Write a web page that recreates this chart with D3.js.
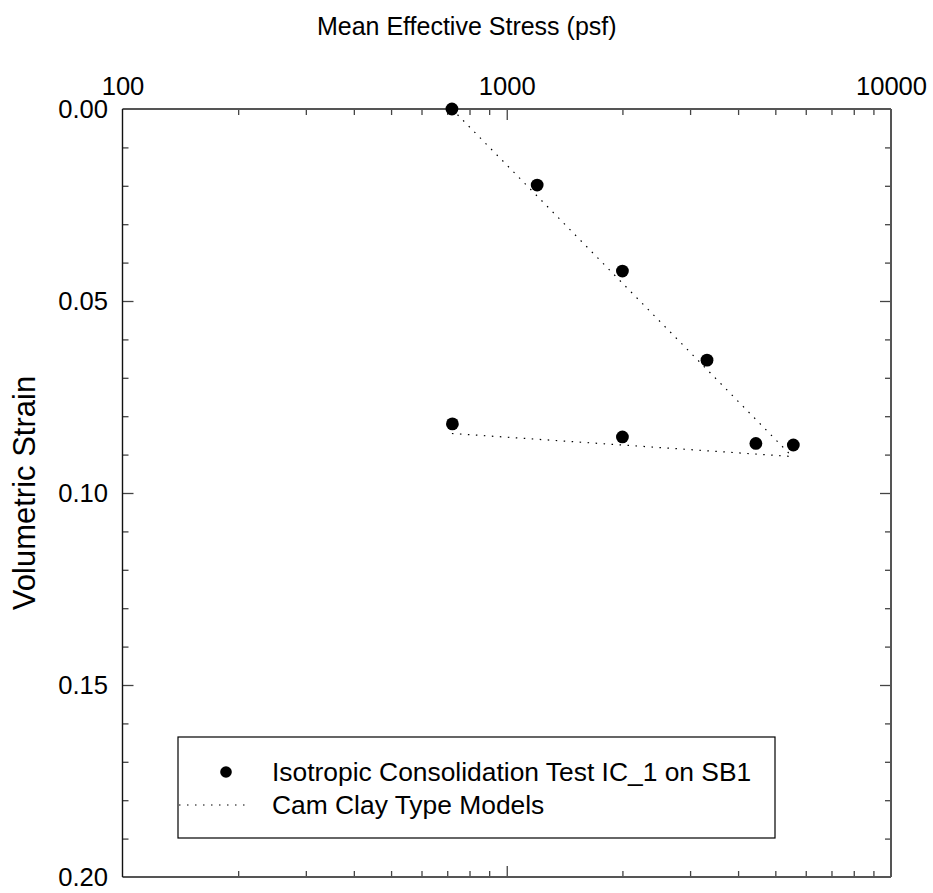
<!DOCTYPE html>
<html>
<head>
<meta charset="utf-8">
<script src="https://cdn.jsdelivr.net/npm/d3@7/dist/d3.min.js"></script>
<style>
  html, body { margin: 0; padding: 0; background: #fff; }
  svg { display: block; font-family: "Liberation Sans", Arial, Helvetica, sans-serif; }
</style>
</head>
<body>
<svg id="chart" width="933" height="893"></svg>
<script>
// Isotropic consolidation test, measured points (mean effective stress in psf, volumetric strain)
const testPressure = [720, 1200, 2000, 3320, 5570, 4450, 2000, 722];
const testStrain   = [0.000, 0.0198, 0.0422, 0.0654, 0.0875, 0.0871, 0.0854, 0.0820];

// Cam Clay type model: normal consolidation line and unloading line
const nclPressure = [720, 5530];
const nclStrain   = [0.000, 0.0905];
const urlPressure = [720, 5530];
const urlStrain   = [0.0845, 0.0905];

// Axis ticks
const xMajorTicks = [100, 1000, 10000];
const xMinorTicks = [200, 300, 400, 500, 600, 700, 800, 900,
                     2000, 3000, 4000, 5000, 6000, 7000, 8000, 9000];
const yMajorTicks = [0.00, 0.05, 0.10, 0.15, 0.20];
const yMinorTicks = [0.01, 0.02, 0.03, 0.04, 0.06, 0.07, 0.08, 0.09,
                     0.11, 0.12, 0.13, 0.14, 0.16, 0.17, 0.18, 0.19];

const legendLabels = ["Isotropic Consolidation Test IC_1 on SB1", "Cam Clay Type Models"];

const svg = d3.select("#chart");
const L = 122.5, R = 891, T = 109, B = 877;
const fontSize = 25;

const x = d3.scaleLog().domain([100, 10000]).range([L, R]);
const y = d3.scaleLinear().domain([0, 0.2]).range([T, B]);

const tickColor = "#444";

function styleAxis(g) {
  g.select(".domain").remove();
  g.selectAll(".tick line").attr("stroke", tickColor).attr("stroke-width", 1.3);
  g.selectAll(".tick text").attr("fill", "#000").attr("font-size", fontSize)
    .attr("font-family", "'Liberation Sans', Arial, sans-serif");
}

// Inward ticks on all four sides
const xMajorInner = xMajorTicks.filter(v => v > 100 && v < 10000);
svg.append("g").attr("transform", `translate(0,${B})`)
  .call(d3.axisTop(x).tickValues(xMinorTicks).tickSize(6).tickFormat("")).call(styleAxis);
svg.append("g").attr("transform", `translate(0,${B})`)
  .call(d3.axisTop(x).tickValues(xMajorInner).tickSize(11).tickFormat("")).call(styleAxis);
svg.append("g").attr("transform", `translate(0,${T})`)
  .call(d3.axisBottom(x).tickValues(xMinorTicks).tickSize(6).tickFormat("")).call(styleAxis);
svg.append("g").attr("transform", `translate(0,${T})`)
  .call(d3.axisBottom(x).tickValues(xMajorInner).tickSize(11).tickFormat("")).call(styleAxis);

const yMajorInner = yMajorTicks.filter(v => v > 0 && v < 0.2);
svg.append("g").attr("transform", `translate(${L},0)`)
  .call(d3.axisRight(y).tickValues(yMinorTicks).tickSize(6).tickFormat("")).call(styleAxis);
svg.append("g").attr("transform", `translate(${L},0)`)
  .call(d3.axisRight(y).tickValues(yMajorInner).tickSize(11).tickFormat("")).call(styleAxis);
svg.append("g").attr("transform", `translate(${R},0)`)
  .call(d3.axisLeft(y).tickValues(yMinorTicks).tickSize(6).tickFormat("")).call(styleAxis);
svg.append("g").attr("transform", `translate(${R},0)`)
  .call(d3.axisLeft(y).tickValues(yMajorInner).tickSize(11).tickFormat("")).call(styleAxis);

// Tick labels: x labels above the top edge, y labels to the left
svg.append("g").attr("transform", `translate(0,${T})`)
  .call(d3.axisTop(x).tickValues(xMajorTicks).tickSize(0).tickPadding(14)
    .tickFormat(d3.format("d"))).call(styleAxis);
svg.append("g").attr("transform", `translate(${L},0)`)
  .call(d3.axisLeft(y).tickValues(yMajorTicks).tickSize(0).tickPadding(14.5)
    .tickFormat(d3.format(".2f"))).call(styleAxis);
svg.selectAll(".tick text").attr("font-size", 25.6);

// Frame
svg.append("line").attr("x1", L).attr("x2", R).attr("y1", T).attr("y2", T)
  .attr("stroke", "#555").attr("stroke-width", 2);
svg.append("line").attr("x1", L).attr("x2", R).attr("y1", B).attr("y2", B)
  .attr("stroke", "#555").attr("stroke-width", 2);
svg.append("line").attr("x1", R).attr("x2", R).attr("y1", T).attr("y2", B)
  .attr("stroke", "#555").attr("stroke-width", 2);
svg.append("line").attr("x1", L).attr("x2", L).attr("y1", T).attr("y2", B)
  .attr("stroke", "#111").attr("stroke-width", 1.4);

// Axis titles
svg.append("text").attr("x", (L + R) / 2 - 40).attr("y", 35)
  .attr("text-anchor", "middle").attr("font-size", fontSize)
  .text("Mean Effective Stress (psf)");
svg.append("text")
  .attr("transform", `translate(35,${(T + B) / 2}) rotate(-90)`)
  .attr("text-anchor", "middle").attr("font-size", 31)
  .text("Volumetric Strain");

// Model lines
const line = d3.line().x(d => x(d[0])).y(d => y(d[1]));
const modelLines = [
  d3.zip(nclPressure, nclStrain),
  d3.zip(urlPressure, urlStrain)
];
svg.append("g").selectAll("path").data(modelLines).join("path")
  .attr("d", line)
  .attr("fill", "none").attr("stroke", "#000").attr("stroke-width", 1.2)
  .attr("stroke-dasharray", "1.5,6.5");

// Test points
svg.append("g").selectAll("circle").data(d3.zip(testPressure, testStrain)).join("circle")
  .attr("cx", d => x(d[0])).attr("cy", d => y(d[1])).attr("r", 6.4).attr("fill", "#000");

// Legend
const lg = svg.append("g");
lg.append("rect").attr("x", 178).attr("y", 737).attr("width", 597).attr("height", 101)
  .attr("fill", "#fff").attr("stroke", "#000").attr("stroke-width", 1.2);
lg.append("circle").attr("cx", 226).attr("cy", 772).attr("r", 5.8).attr("fill", "#000");
lg.append("line").attr("x1", 179).attr("x2", 246).attr("y1", 805).attr("y2", 805)
  .attr("stroke", "#000").attr("stroke-width", 1.2).attr("stroke-dasharray", "1.5,6.5");
lg.selectAll("text.lbl").data(legendLabels).join("text").attr("class", "lbl")
  .attr("x", 272).attr("y", (d, i) => 781 + i * 33)
  .attr("font-size", 26.4).text(d => d);
</script>
</body>
</html>
